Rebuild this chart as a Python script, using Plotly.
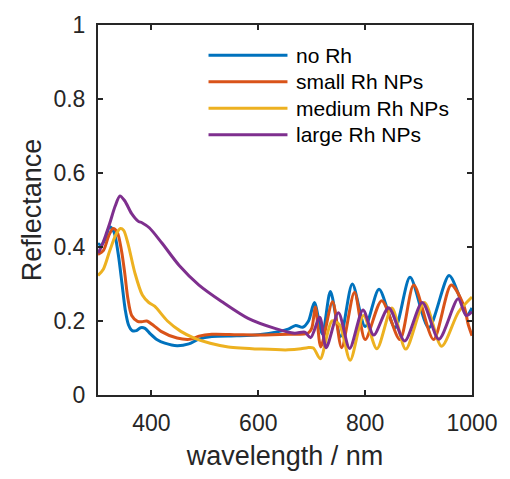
import plotly.graph_objects as go

# ---- data ----
wl_blue = [300, 306, 313, 322, 330, 338, 345, 351, 357, 364, 372, 380, 388, 398, 410, 425, 448, 470, 489, 513, 560, 600, 640, 656, 670, 683, 694, 705, 720, 735, 754, 776, 800, 826, 856, 884, 919, 957, 978, 990, 1000]
r_blue = [0.41, 0.405, 0.42, 0.455, 0.44, 0.38, 0.30, 0.23, 0.19, 0.174, 0.174, 0.182, 0.18, 0.165, 0.15, 0.14, 0.133, 0.138, 0.151, 0.158, 0.16, 0.163, 0.172, 0.178, 0.188, 0.183, 0.2, 0.25, 0.165, 0.28, 0.158, 0.30, 0.185, 0.286, 0.182, 0.318, 0.182, 0.323, 0.26, 0.215, 0.235]

wl_orange = [300, 310, 320, 328, 336, 344, 350, 356, 363, 374, 382, 391, 404, 418, 448, 474, 489, 513, 560, 600, 656, 693, 700, 707, 717, 739, 756, 780, 800, 831, 865, 891, 928, 961, 985, 993, 1000]
r_orange = [0.38, 0.39, 0.43, 0.45, 0.44, 0.39, 0.33, 0.26, 0.215, 0.199, 0.198, 0.2, 0.188, 0.172, 0.154, 0.151, 0.159, 0.164, 0.163, 0.162, 0.164, 0.167, 0.18, 0.238, 0.13, 0.252, 0.128, 0.278, 0.15, 0.255, 0.15, 0.297, 0.15, 0.297, 0.24, 0.19, 0.16]

wl_yellow = [300, 310, 322, 334, 342, 348, 356, 369, 383, 395, 406, 430, 455, 480, 510, 544, 606, 656, 680, 692, 703, 716, 738, 752, 772, 797, 822, 850, 876, 911, 943, 975, 1000]
r_yellow = [0.323, 0.34, 0.39, 0.435, 0.45, 0.445, 0.41, 0.33, 0.27, 0.25, 0.24, 0.2, 0.172, 0.154, 0.14, 0.13, 0.124, 0.122, 0.125, 0.128, 0.127, 0.098, 0.2, 0.19, 0.094, 0.215, 0.125, 0.235, 0.124, 0.25, 0.132, 0.225, 0.265]

wl_purple = [300, 306, 314, 322, 332, 341, 350, 363, 375, 383, 396, 420, 452, 489, 532, 581, 631, 668, 687, 698, 715, 727, 750, 771, 796, 816, 844, 874, 907, 938, 974, 989, 1000]
r_purple = [0.384, 0.4, 0.43, 0.464, 0.51, 0.538, 0.525, 0.49, 0.47, 0.465, 0.452, 0.41, 0.35, 0.297, 0.252, 0.207, 0.18, 0.167, 0.17, 0.155, 0.21, 0.128, 0.222, 0.126, 0.23, 0.162, 0.236, 0.146, 0.25, 0.151, 0.26, 0.215, 0.225]

names = ["no Rh", "small Rh NPs", "medium Rh NPs", "large Rh NPs"]
colors = ["#0072BD", "#D95319", "#EDB120", "#7E2F8E"]
series = [(wl_blue, r_blue), (wl_orange, r_orange), (wl_yellow, r_yellow), (wl_purple, r_purple)]

x_ticks = [400, 600, 800, 1000]
y_ticks = [0, 0.2, 0.4, 0.6, 0.8, 1]
y_tick_text = ["0", "0.2", "0.4", "0.6", "0.8", "1"]

FONT = "Liberation Sans, Arial, Helvetica, sans-serif"
AX = "#262626"

fig = go.Figure()
for (wl, r), nm, c in zip(series, names, colors):
    fig.add_trace(go.Scatter(x=wl, y=r, name=nm, mode="lines",
                             line=dict(color=c, width=3, shape="spline", smoothing=0.8),
                             showlegend=False, hoverinfo="skip"))

# manual legend (long line samples like the original)
leg_y = [48, 75, 102, 129]
W, H = 510, 479
L, R, T, B = 98, 33, 17, 84
pw, ph = W - L - R, H - T - B
def px(x):
    return (x - L) / pw
def py(y):
    return (H - B - y) / ph
for nm, c, yy in zip(names, colors, leg_y):
    fig.add_shape(type="line", xref="paper", yref="paper",
                  x0=px(210), x1=px(290), y0=py(yy), y1=py(yy),
                  line=dict(color=c, width=3))
    fig.add_annotation(xref="paper", yref="paper", x=px(297), y=py(yy),
                       text=nm, showarrow=False, xanchor="left", yanchor="middle",
                       font=dict(family=FONT, size=21, color="black"))

fig.update_layout(
    width=W, height=H,
    margin=dict(l=L, r=R, t=T, b=B),
    paper_bgcolor="white", plot_bgcolor="white",
    font=dict(family=FONT, color=AX),
)
fig.update_xaxes(range=[300, 1000], tickvals=x_ticks, ticks="inside", ticklen=5, tickwidth=2,
                 tickcolor=AX, showline=True, linewidth=2, linecolor=AX, mirror="ticks",
                 showgrid=False, zeroline=False, ticklabelstandoff=6,
                 tickfont=dict(family=FONT, size=23, color=AX),
                 title=dict(text="wavelength / nm", font=dict(family=FONT, size=27, color=AX), standoff=12))
fig.update_yaxes(range=[0, 1], tickvals=y_ticks, ticktext=y_tick_text, ticks="inside", ticklen=5, tickwidth=2,
                 tickcolor=AX, showline=True, linewidth=2, linecolor=AX, mirror="ticks",
                 showgrid=False, zeroline=False, ticklabelstandoff=6,
                 tickfont=dict(family=FONT, size=23, color=AX),
                 title=dict(text="Reflectance", font=dict(family=FONT, size=27, color=AX), standoff=4))

fig.write_html("out.html")
